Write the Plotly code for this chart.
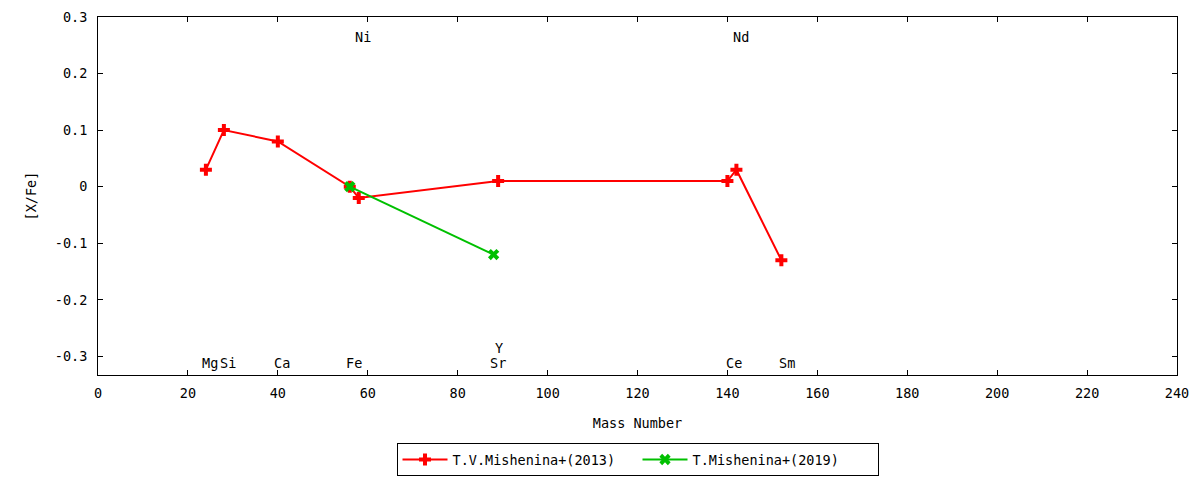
import plotly.graph_objects as go

# red series: T.V.Mishenina+(2013)
mass_2013 = [24, 28, 40, 56, 58, 89, 140, 142, 152]
xfe_2013 = [0.03, 0.10, 0.08, 0.00, -0.02, 0.01, 0.01, 0.03, -0.13]

# green series: T.Mishenina+(2019)
mass_2019 = [56, 88]
xfe_2019 = [0.00, -0.12]

# element labels: name, mass position, label height
elem_names = ["Mg", "Si", "Ca", "Fe", "Ni", "Sr", "Y", "Ce", "Nd", "Sm"]
elem_mass = [22.7, 26.7, 38.7, 54.7, 56.7, 86.7, 87.8, 139.2, 140.8, 151.0]
elem_y = [-0.311, -0.311, -0.311, -0.311, 0.265, -0.311, -0.285, -0.311, 0.265, -0.311]

x_ticks = list(range(0, 241, 20))
y_ticks = [-0.3, -0.2, -0.1, 0, 0.1, 0.2, 0.3]
y_ticktext = ["-0.3", "-0.2", "-0.1", "0", "0.1", "0.2", "0.3"]

FONT = "DejaVu Sans Mono"
FSIZE = 13.5


def main():
    fig = go.Figure()

    fig.add_trace(go.Scatter(
        x=mass_2013, y=xfe_2013, mode="lines+markers",
        name="T.V.Mishenina+(2013)",
        line=dict(color="#ff0000", width=2),
        marker=dict(symbol="cross", size=10, color="#ff0000"),
    ))
    fig.add_trace(go.Scatter(
        x=mass_2019, y=xfe_2019, mode="lines+markers",
        name="T.Mishenina+(2019)",
        line=dict(color="#00c000", width=2),
        marker=dict(symbol="x", size=10, color="#00c000"),
    ))

    # element name labels
    for name, m, yy in zip(elem_names, elem_mass, elem_y):
        fig.add_annotation(x=m, y=yy, text=name, showarrow=False,
                           xanchor="left", yanchor="middle",
                           font=dict(family=FONT, size=FSIZE, color="black"))

    axis_common = dict(
        showgrid=False, zeroline=False, showline=True, linecolor="black",
        linewidth=1, mirror="ticks", ticks="inside", ticklen=5,
        tickcolor="black", automargin=False,
        tickfont=dict(family=FONT, size=FSIZE, color="black"),
    )

    # page body adds an 8px margin, so the figure is a bit smaller
    fig.update_layout(
        width=1184, height=472,
        margin=dict(l=90, r=15, t=9, b=105),
        plot_bgcolor="white", paper_bgcolor="white",
        font=dict(family=FONT, size=FSIZE, color="black"),
        xaxis=dict(range=[0, 240], tickvals=x_ticks, ticklabelstandoff=6,
                   title=dict(text="Mass Number", standoff=18,
                              font=dict(family=FONT, size=FSIZE)),
                   **axis_common),
        yaxis=dict(range=[-0.333, 0.3], tickvals=y_ticks, ticktext=y_ticktext,
                   ticklabelstandoff=7,
                   title=dict(text="[X/Fe]", standoff=15,
                              font=dict(family=FONT, size=FSIZE)),
                   **axis_common),
        showlegend=True,
        legend=dict(orientation="h", x=0.5, xanchor="center",
                    yref="container", y=0.008, yanchor="bottom",
                    bordercolor="black", borderwidth=1,
                    entrywidth=180, itemwidth=45,
                    font=dict(family=FONT, size=FSIZE, color="black")),
    )

    fig.write_html("out.html")


if __name__ == "__main__":
    main()
